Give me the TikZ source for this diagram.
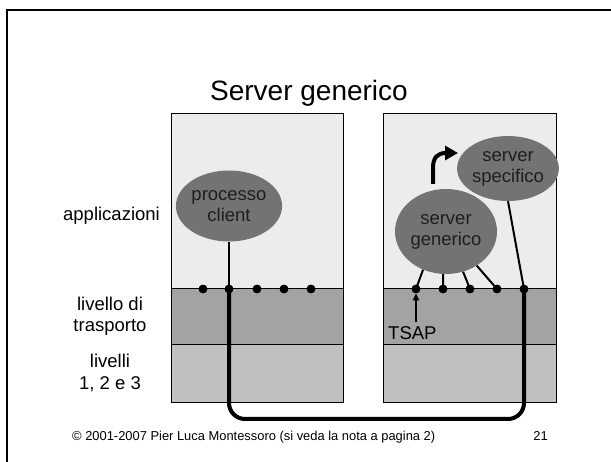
\documentclass[tikz,border=0pt]{standalone}
\usepackage{fontspec}
\setmainfont{Liberation Sans}
\usetikzlibrary{shapes.geometric,arrows.meta}
\definecolor{appfill}{HTML}{ECECEC}
\definecolor{tpfill}{HTML}{A3A3A3}
\definecolor{lowfill}{HTML}{C0C0C0}
\definecolor{procfill}{HTML}{737373}
\definecolor{proctext}{HTML}{1E1E1E}

\begin{document}
\begin{tikzpicture}[x=1pt,y=-1pt,
  layerbox/.style={draw=black,line width=1pt},
  proc/.style={ellipse,fill=procfill,inner sep=0pt,align=center,
    font=\fontsize{18.5}{21}\selectfont,text=proctext},
  dotnode/.style={circle,fill=black,inner sep=0pt,minimum size=8.6pt},
  wire/.style={line width=2pt},
  trunk/.style={line width=4pt,rounded corners=16pt},
  lbl/.style={align=center,font=\fontsize{18.5}{21.5}\selectfont,inner sep=0pt}
]
\useasboundingbox (0,0) rectangle (611,462);

% slide frame (only its left and top edges fall inside the page)
\begin{scope}
  \clip (0,0) rectangle (611,462);
  \draw[line width=2pt] (7,480) -- (7,10) -- (630,10);
\end{scope}

% title
\node[anchor=base,font=\fontsize{28}{32}\selectfont,inner sep=0pt] (title) at (309,101) {Server generico};

% protocol stacks: client host (left) and server host (right)
\foreach \xa/\xb in {171/343, 383/556} {
  \draw[layerbox,fill=appfill] (\xa,114) rectangle (\xb,289);
  \draw[layerbox,fill=tpfill]  (\xa,289) rectangle (\xb,345);
  \draw[layerbox,fill=lowfill] (\xa,345) rectangle (\xb,403);
}

% layer names
\node[lbl] (app) at (111.5,216) {applicazioni};
\node[lbl] (tra) at (110,316) {livello di\\trasporto};
\node[lbl] (low) at (110,373) {livelli\\1, 2 e 3};

% processes
\node[proc,minimum width=90pt,minimum height=71pt] (client) at (229,206) {processo\\client};
\node[proc,minimum width=102pt,minimum height=85pt] (gen) at (446,231.5) {server\\generico};
\node[proc,minimum width=88pt,minimum height=65pt] (spec) at (508,168.5) {server\\specifico};

% transport access points
\foreach \x [count=\i] in {203,229,257,284,311}
  \node[dotnode] (l\i) at (\x,289) {};
\foreach \x [count=\i] in {416,443,470,497,524}
  \node[dotnode] (r\i) at (\x,289) {};

% process bindings
\draw[wire] (client.south) -- (l2.center);
\draw[wire] (gen.-121) -- (r1.center);
\draw[wire] (gen.-94)  -- (r2.center);
\draw[wire] (gen.-67)  -- (r3.center);
\draw[wire] (gen.-48)  -- (r4.center);
\draw[wire] (spec.south) -- (r5.center);

% connection between client and specific server
\coordinate (bottom) at (0,419);
\draw[trunk] (l2.center) -- (l2.center |- bottom) -| (r5.center);

% redraw the dots over the lines
\foreach \i in {1,...,5} {
  \fill (l\i) circle (4.3pt);
  \fill (r\i) circle (4.3pt);
}

% hand-over from generic to specific server
\coordinate (hstart) at (433,184);
\coordinate (hbend) at (433,168);
\coordinate (hend) at (458,153);
\draw[line width=4pt,-{Triangle[length=13pt,width=14pt]}]
  (hstart) -- (hbend) .. controls (433,157) and (438,153) .. (446,153) -- (hend);

% TSAP label
\node[anchor=base west,font=\fontsize{18.5}{21}\selectfont,inner sep=0pt] (tsap) at (388,340) {TSAP};
\draw[line width=1.6pt,-{Triangle[length=7pt,width=6.5pt]}]
  (tsap.north -| r1) ++(0,-5) -- ([yshift=-4.5pt]r1.center);

% footer
\node[anchor=base west,font=\fontsize{12.9}{15}\selectfont,inner sep=0pt] (foot) at (72,441)
  {\textcopyright{} 2001-2007 Pier Luca Montessoro (si veda la nota a pagina 2)};
\node[anchor=base east,font=\fontsize{12.9}{15}\selectfont,inner sep=0pt] (pagenum) at (548,441) {21};
\end{tikzpicture}
\end{document}
